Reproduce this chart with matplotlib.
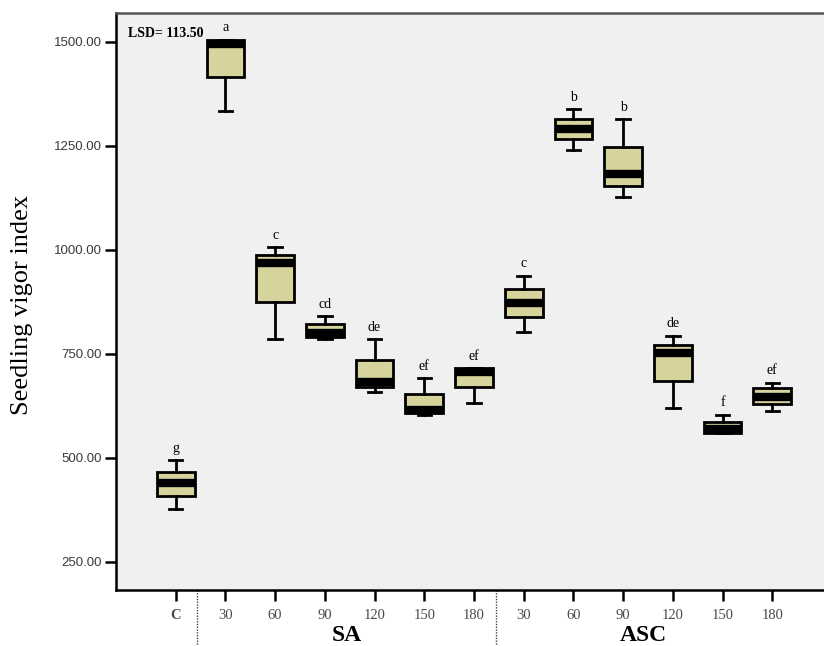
import numpy as np
import matplotlib
matplotlib.use("Agg")
import matplotlib.pyplot as plt
import matplotlib.transforms as mtransforms

# treatment labels along the x axis
labels = ['C', '30', '60', '90', '120', '150', '180',
          '30', '60', '90', '120', '150', '180']
letters = ['g', 'a', 'c', 'cd', 'de', 'ef', 'ef', 'c', 'b', 'b', 'de', 'f', 'ef']

# box statistics
whislo = [377, 1333, 785, 785, 659, 603, 632, 801, 1240, 1126, 619, 559, 613]
q1     = [409, 1415, 875, 790, 669, 607, 669, 838, 1265, 1154, 684, 559, 629]
med    = [438, 1495, 969, 800, 681, 614, 705, 871, 1290, 1181, 751, 569, 647]
q3     = [465, 1504, 987, 821, 735, 653, 715, 905, 1314, 1248, 771, 587, 667]
whishi = [494, 1504, 1006, 840, 785, 691, 715, 937, 1337, 1314, 793, 603, 680]

groups = ['SA', 'ASC']
group_pos = [3.45, 9.4]
separators = [0.42, 6.45]

fig = plt.figure(figsize=(8.24, 6.46), dpi=100)
ax = fig.add_axes([0.1408, 0.0867, 0.8592, 0.8932])
ax.set_facecolor('#f0f0f0')

stats = []
for i in range(len(labels)):
    stats.append(dict(whislo=whislo[i], q1=q1[i], med=med[i], q3=q3[i],
                      whishi=whishi[i], fliers=[]))

pos = np.arange(len(labels))
ax.bxp(stats, positions=pos, widths=0.76, patch_artist=True,
       boxprops=dict(facecolor='#d6d39c', edgecolor='black', linewidth=2),
       medianprops=dict(color='black', linewidth=6, solid_capstyle='butt'),
       whiskerprops=dict(color='black', linewidth=2),
       capprops=dict(color='black', linewidth=2),
       capwidths=0.27, showfliers=False)

for i in range(len(labels)):
    ax.text(pos[i], whishi[i] + 29, letters[i], ha='center', va='center',
            fontsize=10, family='Liberation Serif')

ax.text(0.017, 0.975, 'LSD= 113.50', transform=ax.transAxes, ha='left', va='top',
        fontsize=10, fontweight='bold', family='Liberation Serif')

ax.set_xlim(-1.2, 13.04)
ax.set_ylim(182, 1569)
ax.set_yticks([250, 500, 750, 1000, 1250, 1500])
ax.set_yticklabels(['%.2f' % v for v in [250, 500, 750, 1000, 1250, 1500]],
                   family='Liberation Sans', fontsize=9.5, color='#3a3a3a')
ax.set_xticks(pos)
ax.set_xticklabels(labels, family='Liberation Serif', fontsize=10.5, color='#4a4a4a')
ax.get_xticklabels()[0].set_fontweight('bold')
ax.tick_params(axis='both', direction='out', length=8, width=1.8, color='black')
ax.tick_params(axis='x', pad=6)
ax.tick_params(axis='y', pad=2)

for s in ['left', 'bottom', 'top']:
    ax.spines[s].set_linewidth(1.8)
    ax.spines[s].set_color('black')
ax.spines['top'].set_color('#555555')
ax.spines['right'].set_visible(False)

trans = mtransforms.blended_transform_factory(ax.transData, ax.transAxes)
for xs in separators:
    ax.plot([xs, xs], [0, -0.1], transform=trans, clip_on=False,
            color='#444444', linewidth=1, linestyle=(0, (1, 1)))
for gp, g in zip(group_pos, groups):
    ax.text(gp, -0.079, g, transform=trans, ha='center', va='center',
            fontsize=17, fontweight='bold', family='Liberation Serif')

fig.text(0.027, 0.528, 'Seedling vigor index', rotation=90, ha='center', va='center',
         fontsize=19, family='Liberation Serif')

fig.savefig('out.png', dpi=100)
